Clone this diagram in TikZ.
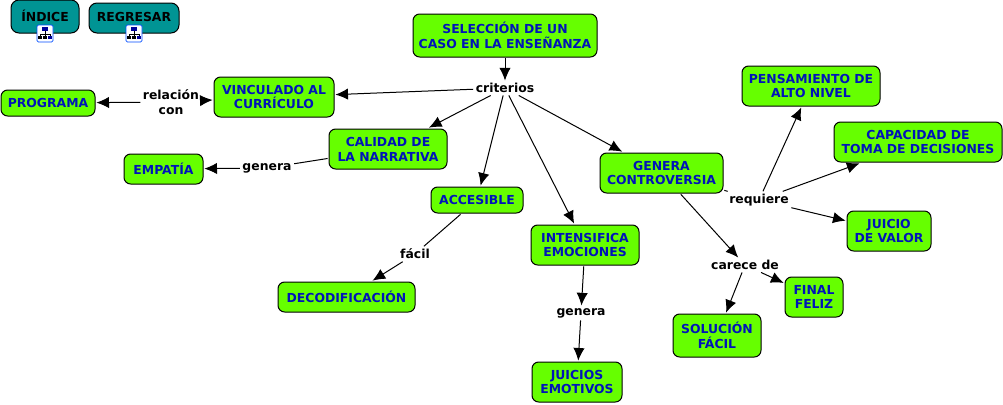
\documentclass[tikz,border=0pt]{standalone}
\usepackage{fontspec}
\setmainfont{DejaVu Sans}
\usetikzlibrary{arrows.meta}
\definecolor{qgreen}{RGB}{102,255,0}
\definecolor{qteal}{RGB}{0,148,148}
\definecolor{qblue}{RGB}{0,20,185}
\tikzset{
 concept/.style 2 args={draw=black, line width=0.75pt, fill=qgreen, rounded corners=5pt, text=qblue, font=\bfseries\fontsize{9.3}{11.2}\selectfont, align=center, inner sep=0pt, outer sep=1pt, minimum width=#1*0.75pt, minimum height=#2*0.75pt},
 navbox/.style 2 args={draw=black, line width=0.75pt, fill=qteal, rounded corners=6pt, text=black, font=\bfseries\fontsize{9.3}{11.2}\selectfont, align=center, inner sep=0pt, minimum width=#1*0.75pt, minimum height=#2*0.75pt},
 phrase/.style={font=\bfseries\fontsize{9.3}{11.2}\selectfont, align=center, inner sep=1.5pt, outer sep=0.5pt},
 link/.style={line width=0.75pt, -{Latex[length=9.5pt,width=8.5pt]}},
 plain/.style={line width=0.75pt},
}
\begin{document}
\begin{tikzpicture}[x=0.75pt,y=-0.75pt]
\useasboundingbox (0,0) rectangle (1003,404);

%buttons:
\node[navbox={68}{33}] (indice) at (45,16.5) {\raisebox{0.5pt}{ÍNDICE}};
\node[navbox={90}{30}] (regresar) at (134,18) {\raisebox{2.2pt}{REGRESAR}};
\foreach \x/\y in {45/33,134/33}{
 \draw[draw=blue!70!cyan, fill=white, rounded corners=1pt, line width=0.6pt] (\x-8,\y-8) rectangle (\x+8,\y+9);
 \draw[line width=0.5pt, black] (\x,\y-2) -- (\x,\y+4) (\x-5,\y+1) -- (\x+5,\y+1) (\x-5,\y+1) -- (\x-5,\y+4) (\x+5,\y+1) -- (\x+5,\y+4);
 \fill[blue!60!black] (\x-3,\y-6) rectangle (\x+3,\y-2);
 \fill[black] (\x-7,\y+3) rectangle (\x-3,\y+6);
 \fill[black] (\x-2,\y+3) rectangle (\x+2,\y+6);
 \fill[blue!60!black] (\x+3,\y+3) rectangle (\x+7,\y+6);
}

%concepts:
\node[concept={184}{43}] (seleccion) at (505,35.5) {SELECCIÓN DE UN\\CASO EN LA ENSEÑANZA};
\node[concept={120}{40}] (vinculado) at (274,97) {VINCULADO AL\\CURRÍCULO};
\node[concept={94}{26}] (programa) at (48,103) {PROGRAMA};
\node[concept={118}{40}] (calidad) at (388,149) {CALIDAD DE\\LA NARRATIVA};
\node[concept={79}{30}] (empatia) at (163.5,169) {EMPATÍA};
\node[concept={92}{26}] (accesible) at (477,200) {ACCESIBLE};
\node[concept={137}{30}] (decodificacion) at (346.5,297) {DECODIFICACIÓN};
\node[concept={108}{40}] (intensifica) at (585,245) {INTENSIFICA\\EMOCIONES};
\node[concept={90}{40}] (emotivos) at (577,382) {JUICIOS\\EMOTIVOS};
\node[concept={123}{40}] (controversia) at (661.5,173) {GENERA\\CONTROVERSIA};
\node[concept={58}{40}] (final) at (814,297) {FINAL\\FELIZ};
\node[concept={88}{43}] (solucion) at (717,335.5) {SOLUCIÓN\\FÁCIL};
\node[concept={84}{40}] (valor) at (889,231) {JUICIO\\DE VALOR};
\node[concept={168}{40}] (capacidad) at (918,142) {CAPACIDAD DE\\TOMA DE DECISIONES};
\node[concept={138}{40}] (pensamiento) at (811,86) {PENSAMIENTO DE\\ALTO NIVEL};

%linking phrases:
\node[phrase] (criterios) at (505,88) {criterios};
\node[phrase] (relacion) at (171,102) {relación\\con};
\node[phrase] (genera) at (267,168) {genera};
\node[phrase] (facil) at (415,254) {fácil};
\node[phrase] (generados) at (581,313) {genera};
\node[phrase] (requiere) at (759,200) {requiere};
\node[phrase] (carece) at (745,265) {carece de};

%connectors:
\foreach \a/\b in {seleccion/criterios,criterios/vinculado,relacion/vinculado,relacion/programa,criterios/calidad,genera/empatia,criterios/accesible,facil/decodificacion,criterios/intensifica,intensifica/generados,generados/emotivos,criterios/controversia,controversia/carece,carece/solucion,carece/final,requiere/pensamiento,requiere/capacidad,requiere/valor}{
 \draw[link] (\a) -- (\b);
}
\foreach \a/\b in {calidad/genera,accesible/facil,controversia/requiere}{
 \draw[plain] (\a) -- (\b);
}

\end{tikzpicture}
\end{document}
